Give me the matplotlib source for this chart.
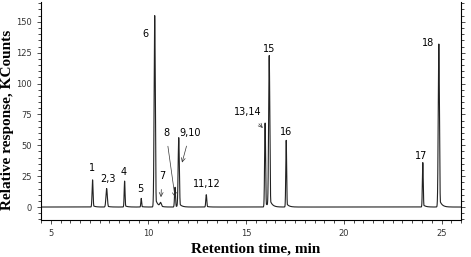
import numpy as np
import matplotlib
matplotlib.use("Agg")
import matplotlib.pyplot as plt
from matplotlib.ticker import MultipleLocator

# peak retention times (min) and heights (KCounts)
peak_rt = [7.14, 7.86, 8.78, 9.63, 10.32, 10.62, 11.36, 11.55, 12.96,
           15.97, 16.18, 17.05, 24.04, 24.86]
peak_h = [22, 15, 21, 7, 155, 3, 16, 56, 10, 68, 122, 54, 36, 132]
peak_w = [0.025, 0.035, 0.022, 0.02, 0.03, 0.04, 0.025, 0.03, 0.025,
          0.025, 0.03, 0.022, 0.022, 0.03]

# labels: text, text position, arrow tip (None = no arrow)
labels = ["1", "2,3", "4", "5", "6", "7", "8", "9,10", "11,12",
          "13,14", "15", "16", "17", "18"]
label_xy = [(7.1, 32), (7.92, 23), (8.74, 28), (9.6, 15), (9.87, 140),
            (10.69, 25), (10.9, 60), (12.13, 60), (13.0, 18.5),
            (15.1, 77), (16.18, 128), (17.05, 61), (23.97, 41), (24.33, 133)]
arrow_to = [None, None, None, None, None,
            (10.64, 8), (11.36, 8), (11.72, 36), None,
            (15.85, 64), None, None, None, None]

t = np.linspace(4.5, 26, 12000)
signal = np.zeros_like(t)
for rt, h, w in zip(peak_rt, peak_h, peak_w):
    g = np.exp(-0.5 * ((t - rt) / w) ** 2)
    tail = np.where(t > rt, np.exp(-(t - rt) / 0.12), 0) * 0.06
    signal += h * np.maximum(g, tail)

fig = plt.figure(figsize=(4.71, 2.57), dpi=100)
ax = fig.add_axes([0.087, 0.144, 0.892, 0.848])
ax.plot(t, signal, color="#222222", lw=0.8)

ax.set_xlim(4.5, 26)
ax.set_ylim(-10.5, 166)
ax.xaxis.set_major_locator(MultipleLocator(5))
ax.xaxis.set_minor_locator(MultipleLocator(0.5))
ax.yaxis.set_major_locator(MultipleLocator(25))
ax.yaxis.set_minor_locator(MultipleLocator(5))
ax.tick_params(labelsize=6, colors="#333333", length=3, width=0.6)
ax.tick_params(which="minor", length=2, width=0.5)
ax.tick_params(axis="y", which="both", right=True)
ax.spines["top"].set_visible(False)
for s in ["left", "right", "bottom"]:
    ax.spines[s].set_linewidth(0.8)

ax.set_xlabel("Retention time, min", fontsize=11, fontweight="bold",
              family="Liberation Serif")
ax.xaxis.set_label_coords(0.51, -0.105)
ax.set_ylabel("Relative response, KCounts", fontsize=11, fontweight="bold",
              family="Liberation Serif")
ax.yaxis.set_label_coords(-0.064, 0.46)

for lab, (lx, ly), tip in zip(labels, label_xy, arrow_to):
    if tip is None:
        ax.text(lx, ly, lab, fontsize=7, ha="center", va="center")
    else:
        ax.annotate(lab, xy=tip, xytext=(lx, ly), fontsize=7, ha="center",
                    va="center",
                    arrowprops=dict(arrowstyle="->", lw=0.5, color="#333333",
                                    shrinkA=4, shrinkB=0))

fig.savefig("out.png", dpi=100)
